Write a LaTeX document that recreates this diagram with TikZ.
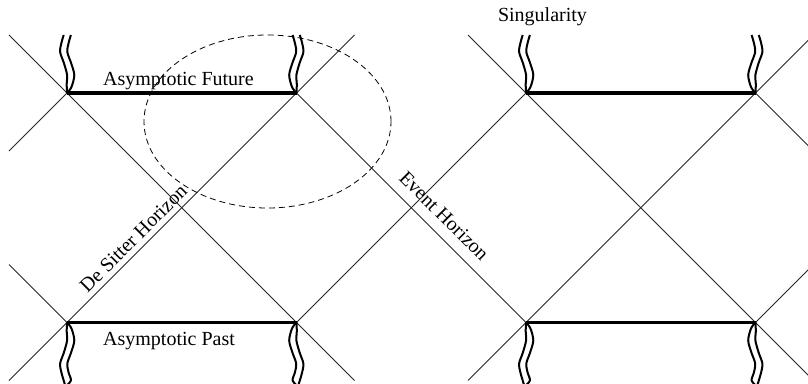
\documentclass[tikz,border=0pt]{standalone}
\usepackage{fontspec}
\setmainfont{Liberation Serif}
\newcommand\wavyline[4]{%
  \begin{scope}[shift={#1}, xscale=#2, yscale=#3]
    \draw[strand] plot[smooth] coordinates {(0,0) (-0.3,9) (0.1,18) (-3.1,30) (-6.9,41) (-5.6,50) (-3.3,58) #4};
    \draw[strand] plot[smooth] coordinates {(0,0) (4.5,6) (7.3,18) (4.1,30) (0.3,41) (1.6,50) (3.9,58) #4};
  \end{scope}}
\begin{document}
\begin{tikzpicture}[x=1pt,y=-1pt,
  gridline/.style={line width=0.8pt, black!85},
  boldline/.style={line width=3.5pt},
  strand/.style={line width=2pt},
  ell/.style={dash pattern=on 6pt off 4pt, line width=0.8pt},
  lab/.style={font=\fontsize{20}{24}\selectfont, inner sep=0pt}]
\useasboundingbox (0,0) rectangle (808,383);
\clip (0,0) rectangle (808,383);
% corners
\coordinate (LT1) at (67,93);
\coordinate (RT1) at (296.5,93);
\coordinate (LT2) at (526,93);
\coordinate (RT2) at (755.5,93);
\coordinate (LB1) at (67,322.5);
\coordinate (RB1) at (296.5,322.5);
\coordinate (LB2) at (526,322.5);
\coordinate (RB2) at (755.5,322.5);
% free ends
\coordinate (e1a) at (9,35);
\coordinate (e1b) at (354.5,380.5);
\coordinate (e2) at (9,151);
\coordinate (e3a) at (354.5,35);
\coordinate (e3b) at (9,380.5);
\coordinate (e4) at (9,264.5);
\coordinate (e7a) at (468,35);
\coordinate (e7b) at (813.5,380.5);
\coordinate (e8a) at (813.5,35);
\coordinate (e8b) at (468,380.5);
\coordinate (e9) at (813.5,151);
\coordinate (e10) at (813.5,264.5);
% null lines
\draw[gridline] (e1a) -- (e1b);
\draw[gridline] (LT1) -- (e2);
\draw[gridline] (e3a) -- (e3b);
\draw[gridline] (e4) -- (LB1);
\draw[gridline] (RT1) -- (LB2);
\draw[gridline] (LT2) -- (RB1);
\draw[gridline] (e7a) -- (e7b);
\draw[gridline] (e8a) -- (e8b);
\draw[gridline] (RT2) -- (e9);
\draw[gridline] (RB2) -- (e10);
% bold boundaries
\draw[boldline] (LT1) -- (RT1);
\draw[boldline] (LB1) -- (RB1);
\draw[boldline] (LT2) -- (RT2);
\draw[boldline] (LB2) -- (RB2);
% wavy singular lines
\wavyline{(LT1)}{1}{-1}{}
\wavyline{(RT1)}{-1}{-1}{}
\wavyline{(LT2)}{1}{-1}{}
\wavyline{(RT2)}{-1}{-1}{}
\wavyline{(LB1)}{1}{1}{(-1.5,64)}
\wavyline{(RB1)}{-1}{1}{(-1.5,64)}
\wavyline{(LB2)}{1}{1}{(-1.5,64)}
\wavyline{(RB2)}{-1}{1}{(-1.5,64)}
% dashed region
\draw[ell] (267.5,121.5) ellipse [x radius=123.5pt, y radius=86.5pt];
% labels
\node[lab, anchor=base west] (fut) at (103,85) {Asymptotic Future};
\node[lab, anchor=base west] (past) at (103,345) {Asymptotic Past};
\node[lab, anchor=base] (sing) at (542.5,21) {Singularity};
\node[lab, anchor=base, rotate=45] (dsh) at (138,243) {De Sitter Horizon};
\node[lab, anchor=base, rotate=-45] (evh) at (439.5,220.5) {Event Horizon};
\end{tikzpicture}
\end{document}
